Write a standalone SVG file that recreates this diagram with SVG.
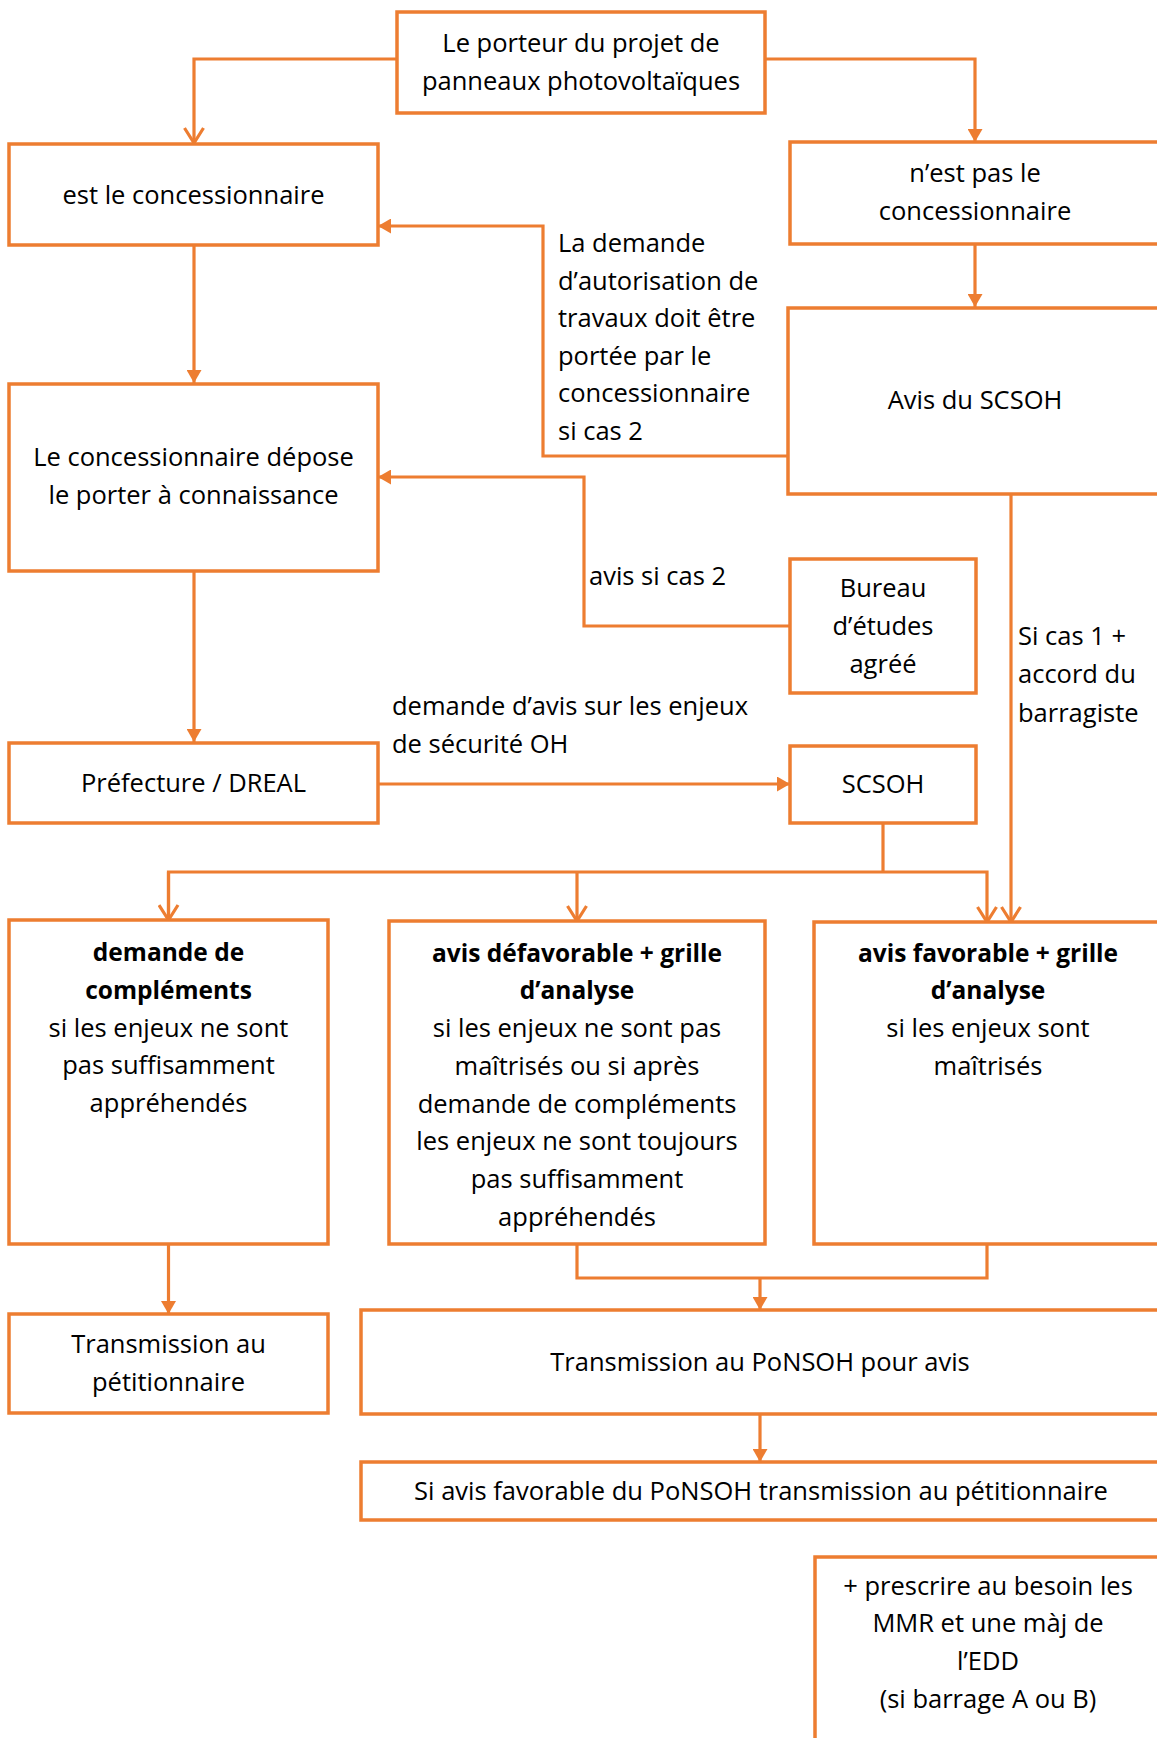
<svg xmlns="http://www.w3.org/2000/svg" width="1157" height="1738" viewBox="0 0 1157 1738">
<style>
.box{fill:#fff;stroke:#ED7D31;stroke-width:3.5}
.ln{fill:none;stroke:#ED7D31;stroke-width:3.2}
text{font-family:"Open Sans","Liberation Sans",sans-serif;font-size:25.5px;fill:#000}
.c{text-anchor:middle}
.b{font-weight:bold;font-size:24.5px}
</style>
<defs>
<marker id="tri" viewBox="0 0 13 15" refX="13" refY="7.5" markerWidth="13" markerHeight="15" markerUnits="userSpaceOnUse" orient="auto"><path d="M0,0 L13,7.5 L0,15 z" fill="#ED7D31"/></marker>
<marker id="vee" viewBox="0 0 18 22" refX="16" refY="11" markerWidth="18" markerHeight="22" markerUnits="userSpaceOnUse" orient="auto"><path d="M1,1.5 L16,11 L1,20.5" fill="none" stroke="#ED7D31" stroke-width="3.2"/></marker>
</defs>
<rect width="1157" height="1738" fill="#fff"/>
<g id="connectors">
<path class="ln" d="M397,59 H194 V143" marker-end="url(#vee)"/>
<path class="ln" d="M765,59 H975 V142" marker-end="url(#tri)"/>
<path class="ln" d="M975,244 V307" marker-end="url(#tri)"/>
<path class="ln" d="M194,245 V383" marker-end="url(#tri)"/>
<path class="ln" d="M788,456 H543 V226 H378" marker-end="url(#tri)"/>
<path class="ln" d="M790,626 H584 V477 H378" marker-end="url(#tri)"/>
<path class="ln" d="M194,571 V742" marker-end="url(#tri)"/>
<path class="ln" d="M378,784 H790" marker-end="url(#tri)"/>
<path class="ln" d="M883,823 V872"/>
<path class="ln" d="M168.5,920 V872 H987 V922" marker-end="url(#vee)"/>
<path class="ln" d="M168.5,872 V920" marker-end="url(#vee)"/>
<path class="ln" d="M577,872 V921" marker-end="url(#vee)"/>
<path class="ln" d="M1011,494 V922" marker-end="url(#vee)"/>
<path class="ln" d="M168.5,1244 V1314" marker-end="url(#tri)"/>
<path class="ln" d="M577,1244 V1278 H987 V1244"/>
<path class="ln" d="M760,1278 V1310" marker-end="url(#tri)"/>
<path class="ln" d="M760,1414 V1462" marker-end="url(#tri)"/>
</g>
<g id="labels">
<text x="558" y="252">La demande</text>
<text x="558" y="290">d’autorisation de</text>
<text x="558" y="327">travaux doit être</text>
<text x="558" y="365">portée par le</text>
<text x="558" y="402">concessionnaire</text>
<text x="558" y="440">si cas 2</text>
<text x="589" y="585">avis si cas 2</text>
<text x="392" y="715">demande d’avis sur les enjeux</text>
<text x="392" y="753">de sécurité OH</text>
<text x="1018" y="645">Si cas 1 +</text>
<text x="1018" y="683">accord du</text>
<text x="1018" y="722">barragiste</text>
</g>
<g id="n1"><rect class="box" x="397" y="12" width="368" height="101"/>
<text class="c" x="581" y="52">Le porteur du projet de</text><text class="c" x="581" y="90">panneaux photovoltaïques</text></g>
<g id="n2"><rect class="box" x="9" y="144" width="369" height="101"/>
<text class="c" x="193.5" y="204">est le concessionnaire</text></g>
<g id="n3"><rect class="box" x="790" y="142" width="369" height="102"/>
<text class="c" x="975" y="182">n’est pas le</text><text class="c" x="975" y="220">concessionnaire</text></g>
<g id="n4"><rect class="box" x="788" y="308" width="374" height="186"/>
<text class="c" x="975" y="409">Avis du SCSOH</text></g>
<g id="n5"><rect class="box" x="9" y="384" width="369" height="187"/>
<text class="c" x="193.5" y="466">Le concessionnaire dépose</text><text class="c" x="193.5" y="504">le porter à connaissance</text></g>
<g id="n6"><rect class="box" x="790" y="559" width="186" height="134"/>
<text class="c" x="883" y="597">Bureau</text><text class="c" x="883" y="635">d’études</text><text class="c" x="883" y="673">agréé</text></g>
<g id="n7"><rect class="box" x="9" y="743" width="369" height="80"/>
<text class="c" x="193.5" y="792">Préfecture / DREAL</text></g>
<g id="n8"><rect class="box" x="790" y="746" width="186" height="77"/>
<text class="c" x="883" y="793">SCSOH</text></g>
<g id="n9"><rect class="box" x="9" y="920" width="319" height="324"/>
<text class="c b" x="168.5" y="961">demande de</text><text class="c b" x="168.5" y="999">compléments</text>
<text class="c" x="168.5" y="1037">si les enjeux ne sont</text><text class="c" x="168.5" y="1074">pas suffisamment</text><text class="c" x="168.5" y="1112">appréhendés</text></g>
<g id="n10"><rect class="box" x="389" y="921" width="376" height="323"/>
<text class="c b" x="577" y="962">avis défavorable + grille</text><text class="c b" x="577" y="999">d’analyse</text>
<text class="c" x="577" y="1037">si les enjeux ne sont pas</text><text class="c" x="577" y="1075">maîtrisés ou si après</text><text class="c" x="577" y="1113">demande de compléments</text><text class="c" x="577" y="1150">les enjeux ne sont toujours</text><text class="c" x="577" y="1188">pas suffisamment</text><text class="c" x="577" y="1226">appréhendés</text></g>
<g id="n11"><rect class="box" x="814" y="922" width="348" height="322"/>
<text class="c b" x="988" y="962">avis favorable + grille</text><text class="c b" x="988" y="999">d’analyse</text>
<text class="c" x="988" y="1037">si les enjeux sont</text><text class="c" x="988" y="1075">maîtrisés</text></g>
<g id="n12"><rect class="box" x="9" y="1314" width="319" height="99"/>
<text class="c" x="168.5" y="1353">Transmission au</text><text class="c" x="168.5" y="1391">pétitionnaire</text></g>
<g id="n13"><rect class="box" x="361" y="1310" width="800" height="104"/>
<text class="c" x="760" y="1371">Transmission au PoNSOH pour avis</text></g>
<g id="n14"><rect class="box" x="361" y="1462" width="800" height="58"/>
<text class="c" x="761" y="1500">Si avis favorable du PoNSOH transmission au pétitionnaire</text></g>
<g id="n15"><rect class="box" x="815" y="1557" width="347" height="200"/>
<text class="c" x="988" y="1595">+ prescrire au besoin les</text><text class="c" x="988" y="1632">MMR et une màj de</text><text class="c" x="988" y="1670">l’EDD</text><text class="c" x="988" y="1708">(si barrage A ou B)</text></g>
</svg>
